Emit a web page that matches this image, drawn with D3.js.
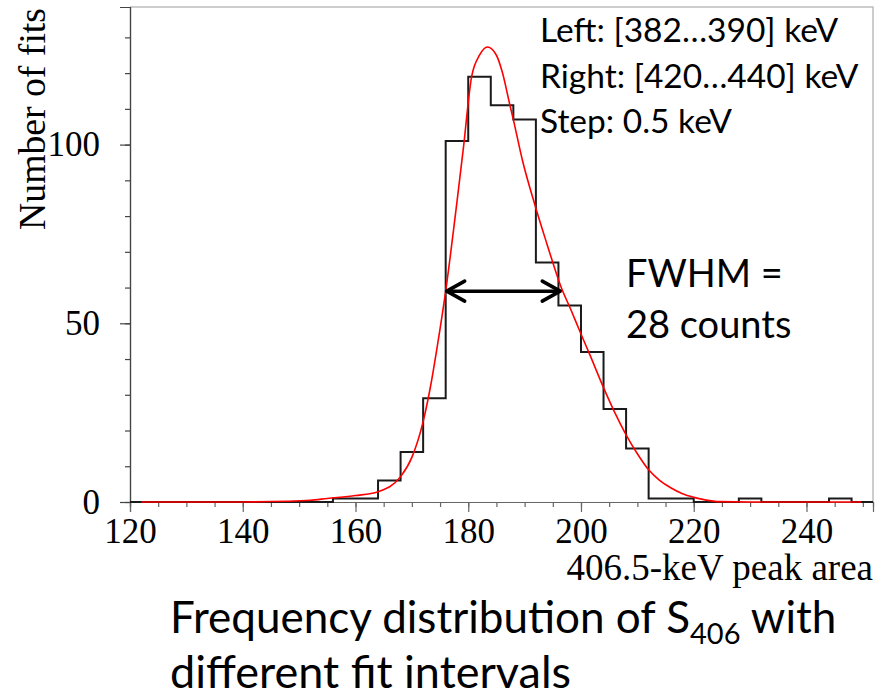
<!DOCTYPE html>
<html>
<head>
<meta charset="utf-8">
<script src="https://cdn.jsdelivr.net/npm/d3@7"></script>
<style>
  body { margin: 0; background: #fff; }
  .tick text { font-family: "Liberation Serif", "DejaVu Serif", serif; }
</style>
</head>
<body>
<script>
/* ===== data ===== */

// histogram: left edge of each 4-wide bin and its count
var binStarts = [120, 124, 128, 132, 136, 140, 144, 148, 152, 156, 160, 164, 168, 172, 176,
  180, 184, 188, 192, 196, 200, 204, 208, 212, 216, 220, 224, 228, 232, 236, 240, 244, 248];
var binCounts = [0, 0, 0, 0, 0, 0, 0, 0, 0, 1, 1, 6, 14, 29, 101,
  119, 111, 107, 67, 55, 42, 26, 15, 1, 1, 0, 0, 1, 0, 0, 0, 1, 0];
var binWidth = 4;

// red fit curve
var fitX = [122, 130, 140, 148, 152, 155, 160, 164, 168, 170, 172, 173.5, 174.4, 176, 178, 179.1,
  180.6, 182, 183.4, 185, 186, 187.4, 188, 189.6, 192, 194, 195, 196.5, 198.1, 200, 201.6, 204,
  206, 208, 210, 212, 214, 216, 218, 220, 222, 224.6, 230, 240, 249.7];
var fitY = [0, 0, 0.02, 0.2, 0.5, 1.0, 1.8, 2.9, 7.1, 12.5, 22.5, 34, 42.5, 59, 84, 98.5,
  119, 125, 127.3, 125, 120.5, 111, 107, 95.7, 82.2, 72, 67, 60, 54.2, 47, 41.1, 32,
  25, 18.8, 13.5, 9, 6, 3.9, 2.3, 1.3, 0.6, 0.1, 0.02, 0, 0];

// FWHM arrow: ends and height
var fwhmEnds = [176, 196.5];
var fwhmLevel = 59;

var xMajor = [120, 140, 160, 180, 200, 220, 240];
var xMinor = d3.range(120, 252, 5);
var yMajor = [0, 50, 100];
var yMinor = d3.range(0, 131, 10);

var infoLines = ['Left: [382\u2026390] keV', 'Right: [420\u2026440] keV', 'Step: 0.5 keV'];

/* ===== frame ===== */

var w = 889;
var h = 697;
var plotL = 130, plotR = 873, plotT = 7, plotB = 502;
var xMax = 251.8;

var svg = d3.select('body')
  .append('svg')
  .attr('width', w)
  .attr('height', h);

svg.append('rect')
  .attr('width', w)
  .attr('height', h)
  .attr('fill', '#fff');

var xScale = d3.scaleLinear()
  .domain([120, xMax])
  .range([plotL, plotR]);

var yScale = d3.scaleLinear()
  .domain([0, 138.5])
  .range([plotB, plotT]);

// top and right border
svg.append('path')
  .attr('d', 'M' + plotL + ',' + plotT + 'H' + plotR + 'V' + plotB)
  .attr('fill', 'none')
  .attr('stroke', '#bdbdbd')
  .attr('stroke-width', 1.5);

/* ===== axes ===== */

var xAxisMinor = d3.axisBottom(xScale).tickValues(xMinor).tickSize(5).tickFormat('');
var xAxis = d3.axisBottom(xScale).tickValues(xMajor).tickSize(10).tickPadding(6).tickFormat(d3.format('d'));
var yAxisMinor = d3.axisLeft(yScale).tickValues(yMinor).tickSize(5).tickFormat('');
var yAxis = d3.axisLeft(yScale).tickValues(yMajor).tickSize(10).tickPadding(20).tickFormat(d3.format('d'));

function styleAxis(g, col) {
  g.select('.domain').attr('stroke', col).attr('stroke-width', 1.2);
  g.selectAll('.tick line').attr('stroke', col).attr('stroke-width', 1.2);
  g.selectAll('.tick text').attr('fill', '#000').style('font-size', '35px');
}

svg.append('g')
  .attr('transform', 'translate(0,' + plotB + ')')
  .call(xAxisMinor)
  .call(styleAxis, '#666');
svg.append('g')
  .attr('transform', 'translate(0,' + plotB + ')')
  .call(xAxis)
  .call(styleAxis, '#666');

svg.append('g')
  .attr('transform', 'translate(' + plotL + ',0)')
  .call(yAxisMinor)
  .call(styleAxis, '#444');
svg.append('g')
  .attr('transform', 'translate(' + plotL + ',0)')
  .call(yAxis)
  .call(styleAxis, '#444');

/* ===== histogram ===== */

var steps = binStarts.map(function(b, i) { return { x: b, y: binCounts[i] }; });
steps.push({ x: binStarts[binStarts.length - 1] + binWidth, y: binCounts[binCounts.length - 1] });

var stepLine = d3.line()
  .x(function(d) { return xScale(Math.min(d.x, xMax)); })
  .y(function(d) { return yScale(d.y); })
  .curve(d3.curveStepAfter);

svg.append('path')
  .datum(steps)
  .attr('d', stepLine)
  .attr('fill', 'none')
  .attr('stroke', '#1a1a1a')
  .attr('stroke-width', 2);

/* ===== fit curve ===== */

var fit = fitX.map(function(x, i) { return { x: x, y: fitY[i] }; });

var fitLine = d3.line()
  .x(function(d) { return xScale(d.x); })
  .y(function(d) { return yScale(d.y); })
  .curve(d3.curveMonotoneX);

svg.append('path')
  .datum(fit)
  .attr('d', fitLine)
  .attr('fill', 'none')
  .attr('stroke', '#ff0000')
  .attr('stroke-width', 1.6);

/* ===== FWHM arrow ===== */

var ax0 = xScale(fwhmEnds[0]), ax1 = xScale(fwhmEnds[1]), ay = yScale(fwhmLevel);
var arrow = svg.append('g')
  .attr('fill', 'none')
  .attr('stroke', '#000')
  .attr('stroke-width', 3.5)
  .attr('stroke-linecap', 'round')
  .attr('stroke-linejoin', 'round');
arrow.append('line').attr('x1', ax0 + 2).attr('x2', ax1 - 2).attr('y1', ay).attr('y2', ay);
arrow.append('path').attr('d', 'M' + (ax0 + 19) + ',' + (ay - 10) + 'L' + (ax0 + 1) + ',' + ay + 'L' + (ax0 + 19) + ',' + (ay + 10));
arrow.append('path').attr('d', 'M' + (ax1 - 19) + ',' + (ay - 10) + 'L' + (ax1 - 1) + ',' + ay + 'L' + (ax1 - 19) + ',' + (ay + 10));

/* ===== texts ===== */

var sans = 'Lato, "Open Sans", sans-serif';
var serif = '"Liberation Serif", "DejaVu Serif", serif';

svg.selectAll('.info')
  .data(infoLines)
  .enter()
  .append('text')
  .attr('class', 'info')
  .attr('x', 540)
  .attr('y', function(d, i) { return 42 + i * 45.5; })
  .style('font-family', sans)
  .style('font-size', '33.5px')
  .text(function(d) { return d; });

svg.append('text')
  .attr('x', 626).attr('y', 287)
  .style('font-family', sans).style('font-size', '38px')
  .text('FWHM =');
svg.append('text')
  .attr('x', 626).attr('y', 338)
  .style('font-family', sans).style('font-size', '38px')
  .text('28 counts');

svg.append('text')
  .attr('transform', 'translate(45,8) rotate(-90)')
  .attr('text-anchor', 'end')
  .style('font-family', serif)
  .style('font-size', '37.7px')
  .text('Number of fits');

svg.append('text')
  .attr('x', plotR).attr('y', 580)
  .attr('text-anchor', 'end')
  .style('font-family', serif)
  .style('font-size', '37px')
  .text('406.5-keV peak area');

var title1 = svg.append('text')
  .attr('x', 170).attr('y', 633)
  .style('font-family', sans)
  .style('font-size', '44px');
title1.append('tspan').text('Frequency distribution of S');
title1.append('tspan').attr('dy', 11).style('font-size', '29px').text('406');
title1.append('tspan').attr('dy', -11).text(' with');

svg.append('text')
  .attr('x', 170).attr('y', 688)
  .style('font-family', sans)
  .style('font-size', '45px')
  .text('different fit intervals');
</script>
</body>
</html>
